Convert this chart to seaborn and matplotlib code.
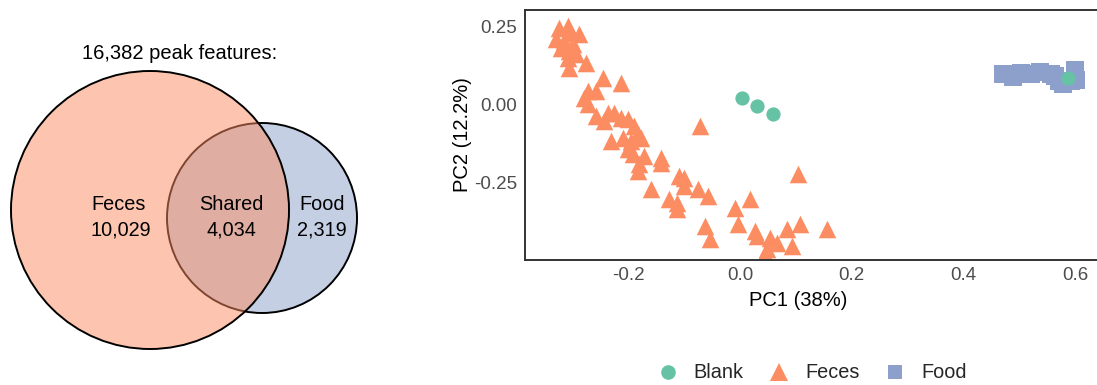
import matplotlib
matplotlib.use("Agg")
import matplotlib.pyplot as plt
import seaborn as sns
import pandas as pd
from matplotlib.patches import Circle
from matplotlib.lines import Line2D

# ---------------- data ----------------
venn_title = "16,382 peak features:"
venn_labels = ["Feces", "Shared", "Food"]
venn_counts = ["10,029", "4,034", "2,319"]

groups = ["Blank", "Feces", "Food"]
colors = {"Blank": "#66C2A5", "Feces": "#FC8D62", "Food": "#8DA0CB"}
markers = {"Blank": "o", "Feces": "^", "Food": "s"}

food_pc1 = [0.471, 0.489, 0.503, 0.521, 0.537, 0.556, 0.564, 0.578, 0.572, 0.599, 0.601, 0.592]
food_pc2 = [0.099, 0.090, 0.103, 0.099, 0.106, 0.098, 0.093, 0.067, 0.077, 0.112, 0.080, 0.075]

feces_pc1 = [-0.324, -0.308, -0.302, -0.288, -0.329, -0.315, -0.299, -0.320, -0.306, -0.293,
             -0.308, -0.276, -0.306, -0.245, -0.213, -0.272, -0.258, -0.279, -0.272, -0.258,
             -0.236, -0.226, -0.244, -0.213, -0.201, -0.190, -0.231, -0.210, -0.196, -0.183,
             -0.178, -0.201, -0.192, -0.172, -0.181, -0.183, -0.142, -0.142, -0.160, -0.110,
             -0.101, -0.101, -0.075, -0.057, -0.128, -0.112, -0.112, -0.071, -0.009, 0.018,
             -0.062, -0.053, -0.004, 0.027, 0.030, 0.053, 0.066, 0.048, 0.044, 0.085,
             0.107, 0.094, 0.103, 0.155]
feces_pc2 = [0.247, 0.253, 0.231, 0.228, 0.212, 0.205, 0.196, 0.183, 0.173, 0.163,
             0.151, 0.135, 0.119, 0.087, 0.071, 0.045, 0.045, 0.022, 0.003, -0.035,
             -0.026, -0.026, -0.051, -0.042, -0.045, -0.067, -0.115, -0.106, -0.115, -0.093,
             -0.106, -0.141, -0.157, -0.163, -0.189, -0.212, -0.170, -0.186, -0.269, -0.228,
             -0.234, -0.260, -0.269, -0.292, -0.301, -0.314, -0.333, -0.067, -0.330, -0.301,
             -0.388, -0.429, -0.381, -0.404, -0.420, -0.426, -0.442, -0.462, -0.478, -0.397,
             -0.381, -0.452, -0.221, -0.397]

blank_pc1 = [0.004, 0.030, 0.059, 0.588]
blank_pc2 = [0.022, -0.003, -0.029, 0.087]

xticks = [-0.2, 0.0, 0.2, 0.4, 0.6]
yticks = [-0.25, 0.0, 0.25]
ytick_labels = ["-0.25", "0.00", "0.25"]

# ---------------- build table ----------------
df = pd.concat([
    pd.DataFrame({"PC1": food_pc1, "PC2": food_pc2, "group": "Food"}),
    pd.DataFrame({"PC1": feces_pc1, "PC2": feces_pc2, "group": "Feces"}),
    pd.DataFrame({"PC1": blank_pc1, "PC2": blank_pc2, "group": "Blank"}),
], ignore_index=True)

sns.set_theme(style="white")
plt.rcParams["font.family"] = ["Liberation Sans", "DejaVu Sans"]
plt.rcParams["axes.unicode_minus"] = False

W, H = 1097, 385
fig = plt.figure(figsize=(W / 100, H / 100), dpi=100)

# ---------------- Venn ----------------
axv = fig.add_axes([0, 0, 400 / W, 1])
axv.set_xlim(0, 400)
axv.set_ylim(H, 0)
axv.axis("off")

food_c = matplotlib.colors.to_rgba(colors["Food"], 0.5)
feces_c = matplotlib.colors.to_rgba(colors["Feces"], 0.5)
axv.add_patch(Circle((262, 218), 95, facecolor=food_c, edgecolor="black", lw=1.4))
axv.add_patch(Circle((150, 210), 139, facecolor=feces_c, edgecolor="black", lw=1.4))

vfs = 14.3
axv.text(179.5, 59, venn_title, ha="center", va="baseline", fontsize=14.5, color="black")
label_x = [119, 231, 322]
for lx, lab, cnt in zip(label_x, venn_labels, venn_counts):
    axv.text(lx, 210, lab, ha="center", va="baseline", fontsize=vfs, color="black")
    axv.text(lx + (2 if lab == "Feces" else 0), 235, cnt, ha="center", va="baseline",
             fontsize=vfs, color="black")

# ---------------- PCA scatter ----------------
ax = fig.add_axes([525 / W, 125 / H, (1103 - 525) / W, 250 / H])
for g, size in zip(["Food", "Feces", "Blank"], [150, 160, 105]):
    sub = df[df["group"] == g]
    sns.scatterplot(data=sub, x="PC1", y="PC2", color=colors[g], marker=markers[g],
                    s=size, linewidth=0, alpha=1, legend=False, ax=ax)

ax.set_xlim(-0.385, 0.650)
ax.set_ylim(-0.497, 0.304)
ax.set_xticks(xticks)
ax.set_xticklabels([f"{t:.1f}" for t in xticks])
ax.set_yticks(yticks)
ax.set_yticklabels(ytick_labels)
for sp in ax.spines.values():
    sp.set_color("#333333")
    sp.set_linewidth(1.4)
ax.tick_params(axis="both", which="major", direction="out", length=3.5, width=1,
               color="#333333", labelcolor="#4D4D4D", labelsize=13.5)
ax.tick_params(axis="x", pad=1.5)
ax.tick_params(axis="y", pad=2)
ax.grid(False)

ax.set_xlabel("PC1 (38%)", fontsize=14.5, color="black", va="center")
ax.xaxis.set_label_coords((798 - 525) / 578, (260 - 300) / 250)
ax.set_ylabel("PC2 (12.2%)", fontsize=14.5, color="black", va="center")
ax.yaxis.set_label_coords((462 - 525) / 578, 0.5)

handles = [Line2D([0], [0], marker=markers[g], color="none", markerfacecolor=colors[g],
                  markeredgewidth=0, markersize=ms)
           for g, ms in zip(groups, [10.5, 13, 9.5])]
fig.legend(handles, groups, loc="center", bbox_to_anchor=(812 / W, 12 / H), ncol=3,
           frameon=False, fontsize=14.3, handlelength=1.0, handletextpad=0.8,
           columnspacing=1.3, borderaxespad=0, borderpad=0)

fig.savefig("out.png", dpi=100)
